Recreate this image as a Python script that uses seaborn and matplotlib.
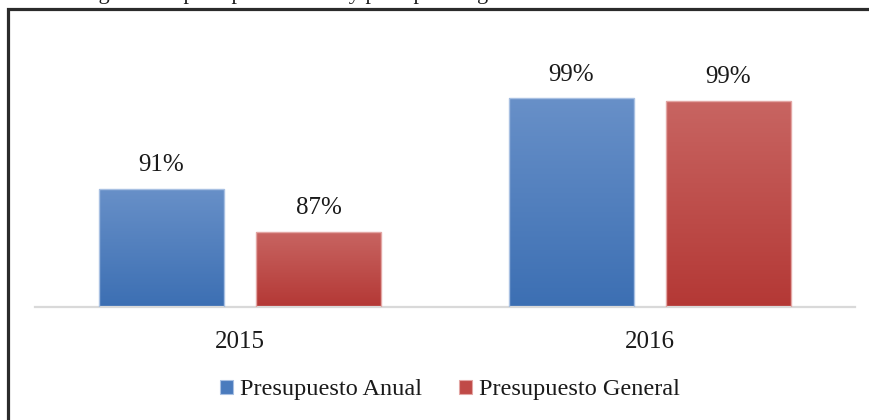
import numpy as np
import pandas as pd
import matplotlib
matplotlib.use("Agg")
import matplotlib.pyplot as plt
import seaborn as sns
from matplotlib.colors import LinearSegmentedColormap
from matplotlib.patches import Rectangle

years = ["2015", "2016"]
series = ["Presupuesto Anual", "Presupuesto General"]
anual = [91.0, 99.4]
general = [87.0, 99.2]
title = "Nivel de gasto del presupuesto anual y presupuesto general"

df = pd.DataFrame({
    "Año": years * 2,
    "Serie": [series[0]] * len(years) + [series[1]] * len(years),
    "Valor": anual + general,
})

sns.set_theme(style="white")
plt.rcParams["font.family"] = ["Liberation Serif", "DejaVu Serif"]

fig = plt.figure(figsize=(8.7, 4.2), dpi=100)
ax = fig.add_axes([35 / 870, 113 / 420, 820 / 870, 215 / 420])

palette = {series[0]: "#5282c0", series[1]: "#bf4b48"}
sns.barplot(data=df, x="Año", y="Valor", hue="Serie", hue_order=series,
            palette=palette, width=0.766, gap=0.204, ax=ax, legend=True,
            saturation=1)

ymin, ymax = 80, 100
ax.set_ylim(ymin, ymax)
ax.set_xlim(-0.5, 1.5)

grad = {
    series[0]: ("#6890c8", "#3c6fb3", "#a8c0e2"),
    series[1]: ("#c86562", "#b43835", "#e3a6a4"),
}
n = len(years)
for i, patch in enumerate(ax.patches[:2 * n]):
    s = series[i // n]
    top_c, bot_c, edge_c = grad[s]
    x0, w = patch.get_x(), patch.get_width()
    top = patch.get_y() + patch.get_height()
    cmap = LinearSegmentedColormap.from_list("g", [bot_c, top_c])
    arr = np.linspace(0, 1, 256).reshape(-1, 1)
    im = ax.imshow(arr, cmap=cmap, aspect="auto", origin="lower",
                   extent=[x0, x0 + w, ymin, top], zorder=2,
                   interpolation="bilinear")
    im.set_clip_path(patch)
    patch.set_edgecolor(edge_c)
    patch.set_linewidth(1.0)
    patch.set_zorder(3)
    patch.set_facecolor("none")
    lbl = f"{patch.get_height():.0f}%"
    ax.annotate(lbl, (x0 + w / 2, top), xytext=(0, 9),
                textcoords="offset points", ha="center", va="bottom",
                fontsize=18, color="#1a1a1a")

ax.set_ylim(ymin, ymax)
ax.set_xlim(-0.5, 1.5)
ax.set_xlabel("")
ax.set_ylabel("")
ax.set_yticks([])
for sp in ["left", "right", "top"]:
    ax.spines[sp].set_visible(False)
ax.spines["bottom"].set_color("#d9d9d9")
ax.spines["bottom"].set_linewidth(1.6)
ax.tick_params(axis="x", length=0, pad=17, labelsize=18, labelcolor="#1a1a1a")
ax.set_facecolor("white")

handles = [Rectangle((0, 0), 1, 1, facecolor="#4a7bbd", edgecolor="#a8c0e2", lw=0.8),
           Rectangle((0, 0), 1, 1, facecolor="#c04a47", edgecolor="#e3a6a4", lw=0.8)]
leg = ax.get_legend()
if leg is not None:
    leg.remove()
fig.legend(handles, series, loc="center", bbox_to_anchor=(450 / 870, 1 - 390 / 420),
           ncol=2, frameon=False, fontsize=17.5, handlelength=0.55, handleheight=0.55,
           handletextpad=0.3, columnspacing=1.5, labelcolor="#1a1a1a")

fig.add_artist(Rectangle((8.5 / 870, -0.1), 1.2, 1.1 - 9.5 / 420 + 0.0,
                         transform=fig.transFigure, fill=False,
                         edgecolor="#2b2b2b", linewidth=2.3, zorder=10))
fig.text(17 / 870, 1 + 1.5 / 420, title, ha="left", va="baseline",
         fontsize=16, color="#1a1a1a")

fig.savefig("out.png", dpi=100)
